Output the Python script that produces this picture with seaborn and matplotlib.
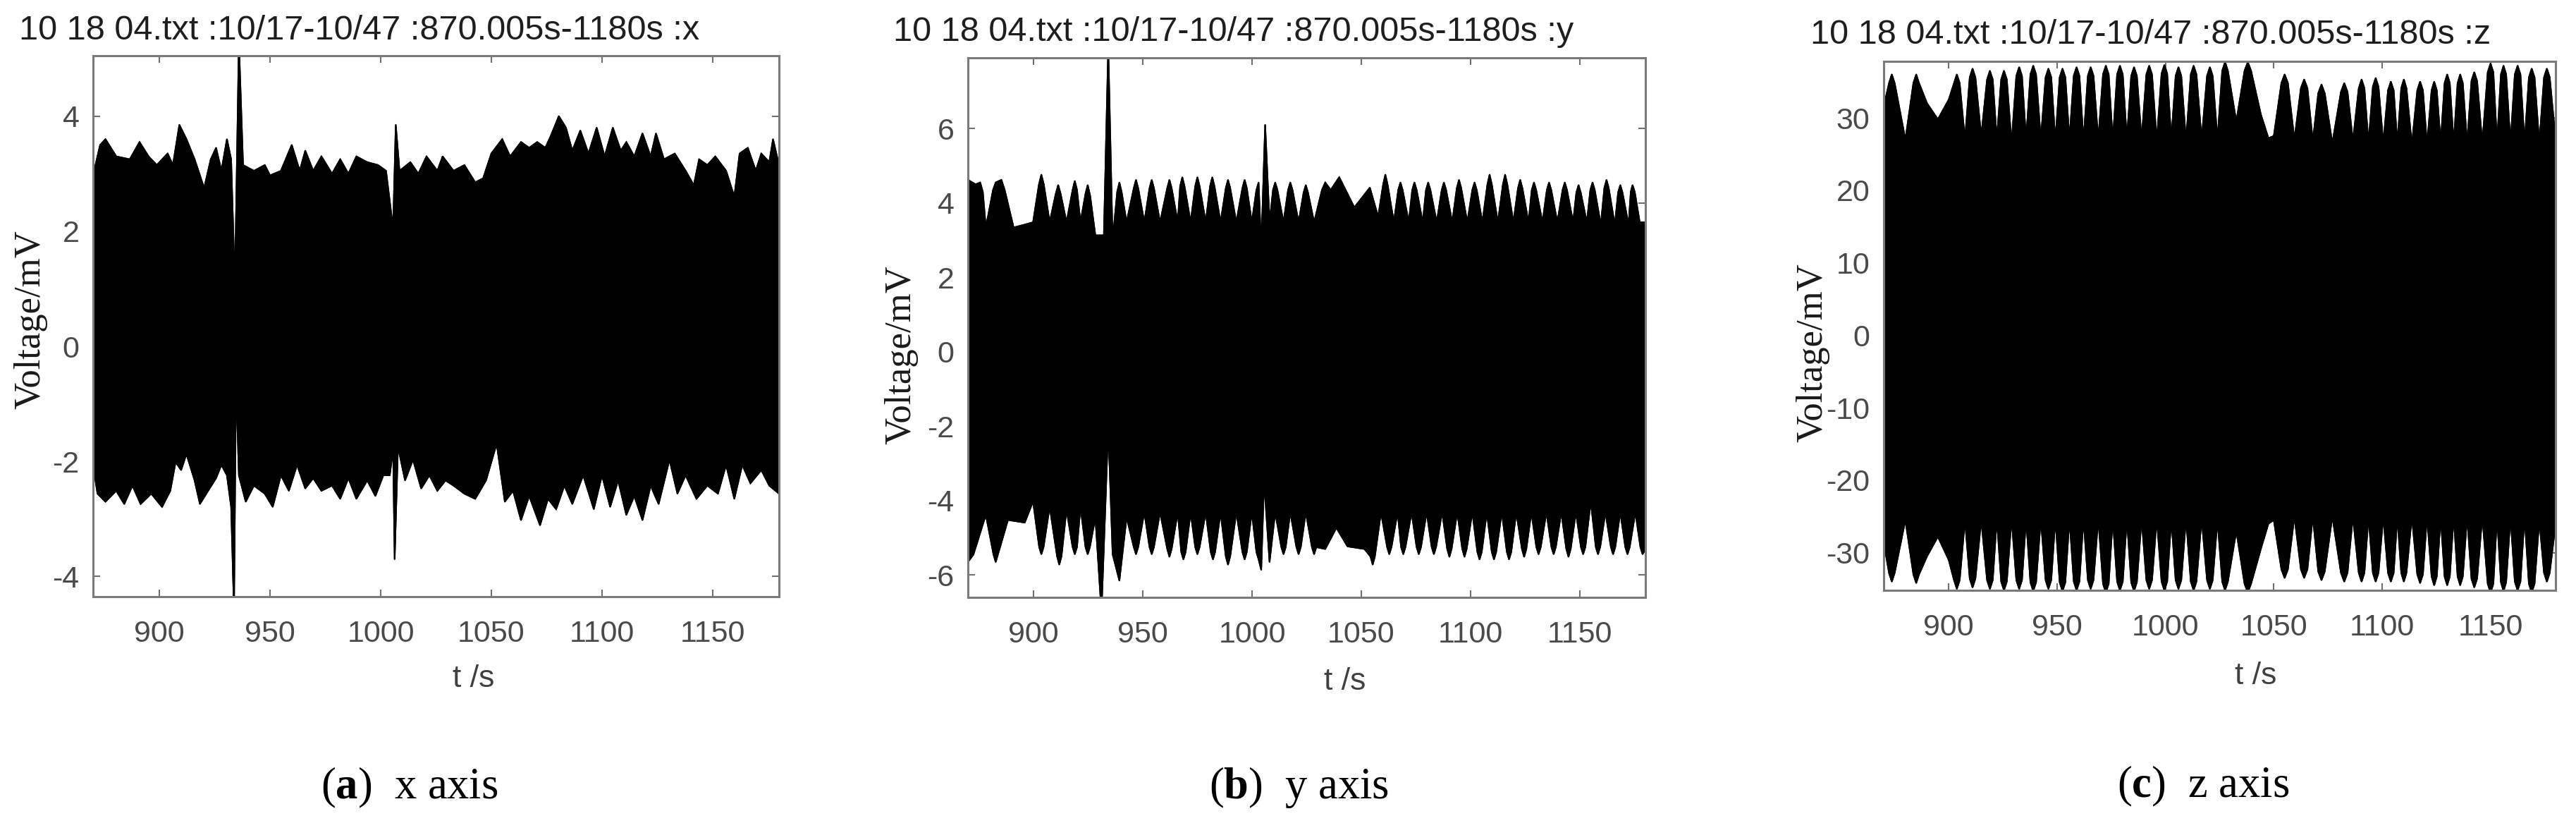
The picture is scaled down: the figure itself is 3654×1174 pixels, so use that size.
import numpy as np
import matplotlib
matplotlib.use("Agg")
import matplotlib.pyplot as plt
import seaborn as sns

# envelope of the x-axis signal (upper / lower)
x_up_t = [870, 873.2, 875.6, 880.5, 886.6, 891, 895.1, 898.8, 903.7, 906.1, 909, 912.2, 915.9, 920.2,
          923.2, 925.6, 928, 930.5, 932.4, 934.1, 935.9, 937.8, 942.7, 947.6, 950, 954.9, 959.8, 963.4,
          965.9, 969.5, 973.2, 978, 981.7, 985.4, 989, 993.9, 998.8, 1002.4, 1005.6, 1006.8, 1008.5,
          1013.4, 1017, 1020.7, 1025.6, 1028, 1032.9, 1037.8, 1042.7, 1046.3, 1050, 1054.9, 1058.5,
          1063.4, 1067.1, 1070.7, 1074.4, 1076.8, 1080.5, 1083.7, 1086.6, 1090.2, 1093.9, 1097.6,
          1101.2, 1104.9, 1108.5, 1111, 1114.6, 1118.3, 1122, 1124.4, 1128, 1132.9, 1137.8, 1141.5,
          1143.9, 1147.6, 1151.2, 1156.1, 1159.8, 1162.2, 1165.9, 1169.5, 1172, 1175.6, 1177.3, 1180]
x_up_v = [2.97, 3.5, 3.6, 3.3, 3.25, 3.55, 3.3, 3.15, 3.35, 3.15, 3.85, 3.6, 3.25, 2.75,
          3.25, 3.45, 3.05, 3.6, 3.25, 1.05, 5.3, 3.15, 3.05, 3.15, 2.97, 3.05, 3.5, 3.05,
          3.4, 3.05, 3.3, 3.0, 3.25, 3.0, 3.3, 3.2, 3.15, 3.05, 2.05, 3.85, 3.05,
          3.2, 3.0, 3.3, 3.05, 3.3, 3.05, 3.15, 2.85, 2.92, 3.35, 3.6, 3.3,
          3.55, 3.45, 3.55, 3.45, 3.65, 4.0, 3.8, 3.4, 3.75, 3.35, 3.8,
          3.3, 3.8, 3.4, 3.55, 3.3, 3.7, 3.3, 3.7, 3.25, 3.35, 3.05, 2.8,
          3.25, 3.15, 3.3, 3.05, 2.6, 3.35, 3.45, 3.05, 3.35, 3.2, 3.6, 3.15]
x_lo_t = [870, 872, 875.6, 880.5, 884.1, 887.8, 891.5, 896.3, 901.2, 904.9, 907.3, 909.8, 912.2, 915.9,
          918.3, 922, 925.6, 928, 930.5, 932.4, 933.7, 934.6, 935.9, 939, 942.7, 947.6, 951.2, 954.9,
          958.5, 962.2, 965.9, 969.5, 973.2, 978, 981.7, 985.4, 989, 993.9, 997.6, 1001.2, 1004.1,
          1005.6, 1006.3, 1007.8, 1011, 1014.6, 1018.3, 1022, 1025.6, 1029.3, 1032.9, 1037.8, 1042.7,
          1047.6, 1052.4, 1056.1, 1059.8, 1063.4, 1067.1, 1072, 1075.6, 1079.3, 1083, 1086.6, 1091.5,
          1096.3, 1100, 1103.7, 1107.3, 1111, 1114.6, 1118.3, 1122, 1125.6, 1130.5, 1134.1, 1137.8,
          1142.7, 1147.6, 1152.4, 1156.1, 1159.8, 1163.4, 1167.1, 1172, 1175.6, 1180]
x_lo_v = [-2.06, -2.56, -2.7, -2.51, -2.74, -2.42, -2.74, -2.56, -2.79, -2.51, -2.01, -2.15, -1.87, -2.33,
          -2.74, -2.51, -2.29, -2.06, -2.24, -2.79, -4.6, -0.59, -2.24, -2.7, -2.42, -2.56, -2.79, -2.24,
          -2.51, -2.06, -2.47, -2.29, -2.51, -2.42, -2.65, -2.29, -2.65, -2.33, -2.6, -2.24, -2.24,
          -1.78, -3.7, -1.74, -2.33, -1.97, -2.47, -2.24, -2.51, -2.33, -2.42, -2.56, -2.65,
          -2.33, -1.69, -2.7, -2.51, -3.02, -2.6, -3.11, -2.65, -2.83, -2.42, -2.74, -2.24,
          -2.83, -2.24, -2.79, -2.33, -2.93, -2.6, -3.02, -2.42, -2.74, -1.97, -2.56, -2.24,
          -2.65, -2.42, -2.56, -2.06, -2.65, -2.06, -2.38, -2.15, -2.42, -2.56]

# y-axis signal: lobe troughs, shoulders and crests
y_up_t = [870, 873.5, 875.6, 876.8, 878.2, 881.5, 882.7, 885.3, 886.8, 890.9, 895.5, 899.8, 902.5, 903.6,
          904.7, 907.4, 910.2, 911.3, 912.4, 915.1, 917.9, 918.9, 919.9, 921.5, 923.8, 924.8, 925.9,
          928.3, 932.2, 934.2, 936.2, 938.3, 939.3, 940.3, 942.6, 945.9, 946.9, 947.9, 950.7, 953.1,
          954.1, 955.1, 957.9, 961.2, 962.2, 963.2, 966, 967.1, 968.1, 969.1, 971.9, 974, 975, 976,
          978.8, 980.8, 981.8, 982.8, 985.6, 988, 989, 990, 992.8, 995.6, 996.6, 997.6, 999.9, 1002,
          1003, 1004.2, 1006, 1008, 1009.6, 1010.6, 1011.6, 1014.4, 1016.5, 1017.5, 1018.5, 1021.3,
          1023.6, 1024.6, 1025.6, 1028.4, 1032, 1033.5, 1036, 1039.9, 1046.8, 1053.9, 1057.7, 1060,
          1061, 1062, 1064.9, 1066.9, 1067.9, 1068.9, 1071.7, 1073.3, 1074.3, 1075.3, 1078.1, 1079.6,
          1080.6, 1081.6, 1084.5, 1086.8, 1087.8, 1088.8, 1091.6, 1093.7, 1094.7, 1095.7, 1098.5,
          1100.8, 1101.8, 1102.8, 1105.4, 1107.7, 1108.7, 1109.7, 1112.5, 1114.8, 1115.8, 1116.8,
          1119.6, 1121.7, 1122.7, 1123.7, 1126.5, 1128, 1129, 1130, 1132.9, 1134.9, 1135.9, 1136.9,
          1139.7, 1142.1, 1143.1, 1144.1, 1146.9, 1148.4, 1149.4, 1150.4, 1153.2, 1154.8, 1155.8,
          1156.8, 1159.6, 1161.2, 1162.2, 1163.2, 1166, 1167.5, 1168.5, 1169.5, 1172.3, 1173.3,
          1174.1, 1175.1, 1177.4, 1180]
y_up_v = [4.62, 4.5, 4.55, 4.3, 3.34, 4.35, 4.55, 4.62, 4.35, 3.34, 3.41, 3.48, 4.5, 4.76,
          4.5, 3.48, 4.25, 4.48, 4.25, 3.48, 4.35, 4.59, 4.35, 3.48, 4.25, 4.48, 4.2,
          3.13, 3.13, 8.2, 2.99, 4.3, 4.55, 4.3, 3.48, 4.4, 4.62, 4.4, 3.48, 4.4,
          4.62, 4.4, 3.48, 4.4, 4.62, 4.4, 3.48, 4.45, 4.69, 4.45, 3.48, 4.45, 4.69, 4.45,
          3.48, 4.45, 4.69, 4.45, 3.48, 4.4, 4.62, 4.4, 3.48, 4.4, 4.62, 4.4, 3.48, 4.35,
          4.55, 2.78, 6.1, 3.48, 4.35, 4.55, 4.35, 3.48, 4.35, 4.55, 4.35, 3.48,
          4.28, 4.48, 4.28, 3.48, 4.35, 4.55, 4.35, 4.69, 3.88, 4.41, 3.63, 4.5,
          4.76, 4.5, 3.48, 4.35, 4.55, 4.35, 3.48, 4.35, 4.55, 4.35, 3.48, 4.35,
          4.55, 4.35, 3.48, 4.35, 4.55, 4.35, 3.48, 4.4, 4.62, 4.4, 3.48,
          4.35, 4.55, 4.35, 3.48, 4.5, 4.76, 4.5, 3.48, 4.5, 4.76, 4.5,
          3.48, 4.4, 4.62, 4.4, 3.48, 4.35, 4.55, 4.35, 3.48, 4.35, 4.55, 4.35,
          3.48, 4.35, 4.55, 4.35, 3.48, 4.28, 4.48, 4.28, 3.48, 4.35, 4.55,
          4.35, 3.41, 4.4, 4.62, 4.4, 3.41, 4.28, 4.48, 4.28, 3.41, 4.3,
          4.48, 4.3, 3.48, 3.48]
y_lo_t = [870, 872.5, 878.2, 881.7, 882.7, 883.7, 888.3, 896, 899.8, 902.6, 903.6, 904.6, 907.4, 910.8,
          911.8, 912.8, 915.1, 917.9, 918.9, 919.9, 921.5, 923.8, 924.8, 925.8, 928.3, 931.1, 934.2,
          936.2, 939.3, 942.6, 945.9, 946.9, 947.9, 950.7, 953.1, 954.1, 955.1, 957.9, 961.2, 962.2,
          963.2, 966, 967.6, 968.6, 969.6, 971.9, 974, 975, 976, 978.8, 981.1, 982.1, 983.1, 985.6,
          988, 989, 990, 992.8, 995.6, 996.6, 997.6, 999.9, 1002, 1003, 1004.2, 1005.5, 1008, 1010.6,
          1013.4, 1014.4, 1015.4, 1017.5, 1020.3, 1021.3, 1022.3, 1024.6, 1027.4, 1028.4, 1029.4,
          1033.5, 1038.6, 1043.7, 1051.4, 1054.2, 1055.2, 1056.2, 1059, 1061.8, 1062.8, 1063.8,
          1066.6, 1068.2, 1069.2, 1070.2, 1073, 1075.3, 1076.3, 1077.3, 1079.9, 1082.2, 1083.2,
          1084.2, 1087, 1089.3, 1090.3, 1091.3, 1093.9, 1096.2, 1097.2, 1098.2, 1100.8, 1103.1,
          1104.1, 1105.1, 1107.4, 1109.7, 1110.7, 1111.7, 1114.3, 1116.6, 1117.6, 1118.6, 1120.9,
          1123.5, 1124.5, 1125.5, 1127.8, 1130.1, 1131.1, 1132.1, 1134.7, 1137, 1138, 1139, 1141.5,
          1143.8, 1144.8, 1145.8, 1148.2, 1150.5, 1151.5, 1152.5, 1155, 1157.3, 1158.3, 1159.3,
          1161.7, 1164.2, 1165.2, 1166.2, 1168.5, 1170.8, 1171.8, 1172.8, 1175.4, 1177.7, 1178.7, 1180]
y_lo_v = [-5.65, -5.45, -4.38, -5.45, -5.65, -5.45, -4.52, -4.59, -4.02, -5.25, -5.44, -5.25, -4.16, -5.5,
          -5.72, -5.5, -4.24, -5.25, -5.44, -5.25, -4.16, -5.25, -5.44, -5.25, -4.45, -7.0, -2.04,
          -5.44, -6.15, -4.45, -5.25, -5.44, -5.25, -4.31, -5.25, -5.44, -5.25, -4.31, -5.3, -5.51,
          -5.3, -4.31, -5.38, -5.58, -5.38, -4.31, -5.25, -5.44, -5.25, -4.31, -5.38, -5.58, -5.38, -4.31,
          -5.5, -5.72, -5.5, -4.31, -5.38, -5.58, -5.38, -4.31, -5.38, -5.58, -5.86, -3.46, -5.65, -4.31,
          -5.25, -5.44, -5.25, -4.31, -5.25, -5.44, -5.25, -4.31, -5.25, -5.44, -5.25,
          -5.3, -4.73, -5.23, -5.3, -5.5, -5.72, -5.5, -4.31, -5.25, -5.44, -5.25,
          -4.31, -5.25, -5.44, -5.25, -4.31, -5.25, -5.44, -5.25, -4.31, -5.25, -5.44,
          -5.25, -4.31, -5.3, -5.51, -5.3, -4.31, -5.3, -5.51, -5.3, -4.31, -5.38,
          -5.58, -5.38, -4.31, -5.38, -5.58, -5.38, -4.31, -5.38, -5.58, -5.38, -4.31,
          -5.3, -5.51, -5.3, -4.31, -5.25, -5.44, -5.25, -4.31, -5.25, -5.44, -5.25, -4.31,
          -5.3, -5.51, -5.3, -4.31, -5.25, -5.44, -5.25, -4.02, -5.25, -5.44, -5.25,
          -4.31, -5.25, -5.44, -5.25, -4.31, -5.25, -5.44, -5.25, -4.31, -5.25, -5.44, -5.3]

# z-axis signal (upper and lower lobes share the same times)
z_t = [870, 872.45, 873.75, 875.05, 880, 883.7, 885, 886.3, 890, 895, 900, 902.45, 903.75, 905.05,
       907.5, 909.7, 911, 912.3, 915, 917.7, 919, 920.3, 922.2, 924.2, 925.5, 926.8, 929, 931.2,
       932.5, 933.8, 935.7, 937.7, 939, 940.3, 942.5, 944.7, 946, 947.3, 949.2, 951.2, 952.5, 953.8,
       955.7, 957.7, 959, 960.3, 962.2, 964.2, 965.5, 966.8, 969, 971.2, 972.5, 973.8, 975.7, 977.7,
       979, 980.3, 982.2, 984.2, 985.5, 986.8, 989, 991.2, 992.5, 993.8, 996, 998.2, 999.5, 1000.8,
       1002.7, 1004.7, 1006, 1007.3, 1009.5, 1011.7, 1013, 1014.3, 1016.7, 1019.2, 1020.5, 1021.8,
       1024, 1026.2, 1027.5, 1028.8, 1032.7, 1036.5, 1038, 1039.5, 1044, 1047.5, 1050, 1053.5, 1055,
       1056.5, 1059.5, 1062.5, 1064, 1065.5, 1068, 1070.5, 1072, 1073.5, 1077, 1081, 1082.5, 1084,
       1086.5, 1089.2, 1090.5, 1091.8, 1093.7, 1095.7, 1097, 1098.3, 1100.5, 1102.7, 1104, 1105.3,
       1107, 1108.8, 1110, 1111.2, 1113.7, 1116.2, 1117.5, 1118.8, 1120.7, 1122.8, 1124, 1125.2,
       1127, 1128.8, 1130, 1131.2, 1133, 1134.8, 1136, 1137.2, 1139.2, 1141.2, 1142.5, 1143.8,
       1146.2, 1148.7, 1150, 1151.3, 1153, 1154.8, 1156, 1157.2, 1159.2, 1161.2, 1162.5, 1163.8,
       1165.7, 1167.7, 1169, 1170.3, 1172.5, 1174.7, 1176, 1177.3, 1180]
z_up_v = [31.5, 34.8, 36.0, 34.8, 27.0, 34.8, 36.0, 34.8, 32.0, 29.8, 32.5, 34.8, 36.0, 34.8,
          27.0, 35.6, 36.8, 35.6, 27.5, 35.3, 36.5, 35.3, 27.0, 35.3, 36.5, 35.3, 26.5, 35.8,
          37.0, 35.8, 27.0, 36.0, 37.2, 36.0, 27.0, 35.6, 36.8, 35.6, 26.8, 35.6, 36.8, 35.6,
          27.0, 35.8, 37.0, 35.8, 26.8, 35.8, 37.0, 35.8, 27.0, 36.0, 37.2, 36.0, 26.8, 36.0,
          37.2, 36.0, 27.0, 35.8, 37.0, 35.8, 27.0, 36.0, 37.2, 36.0, 26.8, 36.1, 37.3, 36.1,
          27.0, 35.8, 37.0, 35.8, 26.8, 36.0, 37.2, 36.0, 27.0, 35.8, 37.0, 35.8,
          27.0, 36.5, 37.7, 36.5, 29.5, 36.5, 37.7, 36.5, 30.5, 27.2, 27.5, 34.8, 36.0,
          34.8, 27.0, 34.1, 35.3, 34.1, 26.8, 33.4, 34.6, 33.4, 26.5, 33.6, 34.8, 33.6,
          26.8, 34.1, 35.3, 34.1, 26.5, 34.3, 35.5, 34.3, 26.5, 33.8, 35.0, 33.8,
          26.5, 34.1, 35.3, 34.1, 26.3, 33.8, 35.0, 33.8, 26.3, 33.8, 35.0, 33.8,
          26.5, 34.8, 36.0, 34.8, 26.5, 34.8, 36.0, 34.8, 26.5, 35.1, 36.3, 35.1,
          26.5, 36.3, 37.5, 36.3, 26.5, 36.0, 37.2, 36.0, 26.5, 36.0, 37.2, 36.0,
          26.5, 35.6, 36.8, 35.6, 26.5, 35.6, 36.8, 35.6, 27.0]
z_lo_v = [-28.5, -32.8, -34.0, -32.8, -25.5, -33.0, -34.2, -33.0, -30.5, -27.8, -31.0, -33.8, -35.0, -33.8,
          -25.5, -33.6, -34.8, -33.6, -25.5, -33.8, -35.0, -33.8, -25.3, -34.0, -35.2, -34.0, -25.3, -33.8,
          -35.0, -33.8, -25.3, -34.1, -35.3, -34.1, -25.3, -33.8, -35.0, -33.8, -25.3, -34.1, -35.3, -34.1,
          -25.3, -34.0, -35.2, -34.0, -25.3, -33.8, -35.0, -33.8, -25.3, -34.3, -35.5, -34.3, -25.3, -34.0,
          -35.2, -34.0, -25.3, -34.1, -35.3, -34.1, -25.3, -33.8, -35.0, -33.8, -25.3, -34.0, -35.2, -34.0,
          -25.3, -33.8, -35.0, -33.8, -25.3, -34.0, -35.2, -34.0, -25.3, -33.8, -35.0, -33.8,
          -25.5, -34.0, -35.2, -34.0, -27.0, -34.3, -35.5, -34.3, -29.5, -26.0, -25.5, -32.3, -33.5,
          -32.3, -25.0, -32.3, -33.5, -32.3, -25.0, -32.6, -33.8, -32.6, -25.0, -32.8, -34.0, -32.8,
          -25.0, -32.8, -34.0, -32.8, -25.0, -32.8, -34.0, -32.8, -25.0, -32.8, -34.0, -32.8,
          -25.0, -32.8, -34.0, -32.8, -25.0, -33.0, -34.2, -33.0, -25.0, -33.3, -34.5, -33.3,
          -25.0, -33.3, -34.5, -33.3, -25.0, -33.3, -34.5, -33.3, -25.0, -33.6, -34.8, -33.6,
          -25.0, -34.3, -35.5, -34.3, -25.0, -34.1, -35.3, -34.1, -25.0, -34.0, -35.2, -34.0,
          -25.0, -34.3, -35.5, -34.3, -25.5, -32.8, -34.0, -32.8, -26.0]

xticks = [900, 950, 1000, 1050, 1100, 1150]
panel_names = ["x", "y", "z"]
captions = ["a", "b", "c"]
yticks = [[-4, -2, 0, 2, 4], [-6, -4, -2, 0, 2, 4, 6], [-30, -20, -10, 0, 10, 20, 30]]
ylims = [(-4.35, 5.05), (-6.6, 7.9), (-35.2, 37.8)]
title_text = "10 18 04.txt :10/17-10/47 :870.005s-1180s :"

envelopes = [
    (x_up_t, x_up_v, x_lo_t, x_lo_v),
    (y_up_t, y_up_v, y_lo_t, y_lo_v),
    (z_t, z_up_v, z_t, z_lo_v),
]

sns.set_theme(style="white")
plt.rcParams["font.family"] = ["Liberation Sans", "DejaVu Sans"]
plt.rcParams["mathtext.fontset"] = "custom"
plt.rcParams["mathtext.rm"] = "Liberation Serif"
plt.rcParams["mathtext.bf"] = "Liberation Serif:bold"

W, H = 3654, 1174
fig = plt.figure(figsize=(W / 100, H / 100), dpi=100)
fig.patch.set_facecolor("white")

# axes boxes in pixels: left, right, top, bottom
boxes = [(132, 1105, 79, 846), (1373, 2334, 82, 847), (2672, 3625, 87, 837)]
title_x = [27, 1267, 2568]
title_y = [44, 46, 50]
ylabel_pos = [(43, 453), (1278, 503), (2571, 500)]
xlabel_pos = [(672, 962), (1908, 966), (3200, 958)]
caption_pos = [(581, 1117), (1842, 1117), (3125, 1115)]

for i in range(3):
    l, r, t, b = boxes[i]
    ax = fig.add_axes([l / W, 1 - b / H, (r - l) / W, (b - t) / H])
    ut, uv, lt, lv = envelopes[i]
    poly_t = np.concatenate([np.array(ut), np.array(lt)[::-1]])
    poly_v = np.concatenate([np.array(uv), np.array(lv)[::-1]])
    ax.fill(poly_t, poly_v, color="black", lw=1.5, zorder=2)
    sns.lineplot(x=ut, y=uv, ax=ax, color="black", lw=1.5, zorder=3)
    sns.lineplot(x=lt, y=lv, ax=ax, color="black", lw=1.5, zorder=3)

    ax.set_xlim(870, 1180)
    ax.set_ylim(*ylims[i])
    ax.set_xticks(xticks)
    ax.set_yticks(yticks[i])
    ax.set_xticklabels([str(v) for v in xticks])
    ax.set_yticklabels([str(v) for v in yticks[i]])
    ax.tick_params(direction="in", length=7, width=1.5, color="#707070",
                   labelsize=31, labelcolor="#4a4a4a", top=True, right=True,
                   bottom=True, left=True)
    ax.tick_params(axis="x", pad=24)
    ax.tick_params(axis="y", pad=14)
    for s in ax.spines.values():
        s.set_color("#7a7a7a")
        s.set_linewidth(2.2)
        s.set_zorder(4)
    ax.set_xlabel("")
    ax.set_ylabel("")

    fig.text(title_x[i] / W, 1 - title_y[i] / H, title_text + panel_names[i],
             fontsize=35, color="#1e1e1e", ha="left", va="center")
    fig.text(ylabel_pos[i][0] / W, 1 - ylabel_pos[i][1] / H, "Voltage/mV",
             fontsize=38, family="Liberation Serif", color="#1a1a1a",
             rotation=90, ha="center", va="center")
    fig.text(xlabel_pos[i][0] / W, 1 - xlabel_pos[i][1] / H, "t /s",
             fontsize=32, color="#404040", ha="center", va="center")
    fig.text(caption_pos[i][0] / W, 1 - caption_pos[i][1] / H,
             r"($\mathbf{" + captions[i] + r"}$)  " + panel_names[i] + " axis",
             fontsize=45, family="Liberation Serif", color="black",
             ha="center", va="center")

fig.savefig("out.png", dpi=100, facecolor="white")
